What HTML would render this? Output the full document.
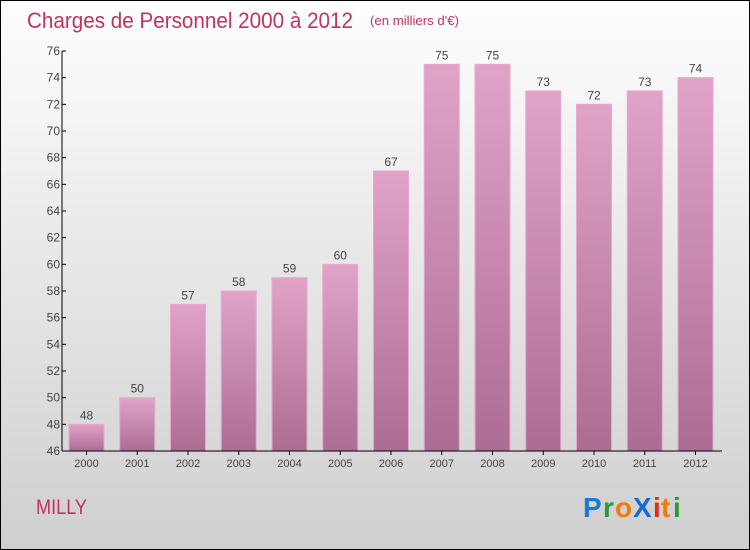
<!DOCTYPE html>
<html><head><meta charset="utf-8"><style>
body{margin:0}
#c{position:relative;width:748px;height:548px;border:1px solid #000;background:linear-gradient(#fefefe,#cfcfcf);overflow:hidden;font-family:"Liberation Sans",sans-serif}
svg{position:absolute;left:0;top:0}
</style></head><body>
<div id="c">
<svg id="s" width="748" height="548">
<defs><linearGradient id="g" x1="0" y1="0" x2="0" y2="1"><stop offset="0" stop-color="#e2a3c8"/><stop offset="1" stop-color="#ad6d93"/></linearGradient></defs>
<text x="26" y="27" font-size="22" fill="#c0335f" textLength="326" lengthAdjust="spacingAndGlyphs">Charges de Personnel 2000 à 2012</text>
<text x="369" y="24" font-size="13" fill="#c0335f" textLength="89" lengthAdjust="spacingAndGlyphs">(en milliers d'€)</text>
<text x="35" y="513" font-size="21" fill="#c0335f" textLength="51" lengthAdjust="spacingAndGlyphs">MILLY</text>
<g font-size="28" font-weight="bold" font-family="'Liberation Sans',sans-serif">
<text x="582" y="516" fill="#1a7ad6">P</text><text x="602" y="516" fill="#2a9a3a">r</text><text x="614" y="516" fill="#f07a10">o</text><text x="632" y="516" fill="#1a6ad0">X</text><text x="652" y="516" fill="#e03010">i</text><text x="660" y="516" fill="#f07a10">t</text><text x="672" y="516" fill="#2a9a3a">i</text>
</g>
<g id="plot"></g>
</svg></div>
<script>
const categories=["2000","2001","2002","2003","2004","2005","2006","2007","2008","2009","2010","2011","2012"];
const values=[48,50,57,58,59,60,67,75,75,73,72,73,74];
const yTicks=[46,48,50,52,54,56,58,60,62,64,66,68,70,72,74,76];
const NS="http://www.w3.org/2000/svg";
const p=document.getElementById('plot');
const y=v=>450-(v-46)*400/30;
const x=i=>85.5+i*50.75;
function mk(t,a){const e=document.createElementNS(NS,t);for(const k in a)e.setAttribute(k,a[k]);p.appendChild(e);return e;}
values.forEach((v,i)=>{
 const r=mk('rect',{x:x(i)-17.5,y:y(v),width:35,height:450-y(v),fill:'url(#g)',stroke:'#e8a8cc','stroke-width':1});
 
 
 const t=mk('text',{x:x(i),y:y(v)-5,'text-anchor':'middle','font-size':12,fill:'#444'});t.textContent=v;
 
 
 const c=mk('text',{x:x(i),y:466,'text-anchor':'middle','font-size':11,fill:'#444'});c.textContent=categories[i];
 
 
 const tk=mk('line',{x1:x(i),x2:x(i),y1:450,y2:454,stroke:'#000'});
 
 
});
yTicks.forEach(v=>{
 const l=mk('line',{x1:61,x2:65,y1:y(v),y2:y(v),stroke:'#000'});
 
 
 const t=mk('text',{x:59,y:y(v)+4,'text-anchor':'end','font-size':12,fill:'#444'});t.textContent=v;
 
 
});
const ya=mk('line',{x1:61,x2:61,y1:50,y2:450,stroke:'#000'});


const xa=mk('line',{x1:61,x2:721,y1:450,y2:450,stroke:'#000'});


</script>
</body></html>
